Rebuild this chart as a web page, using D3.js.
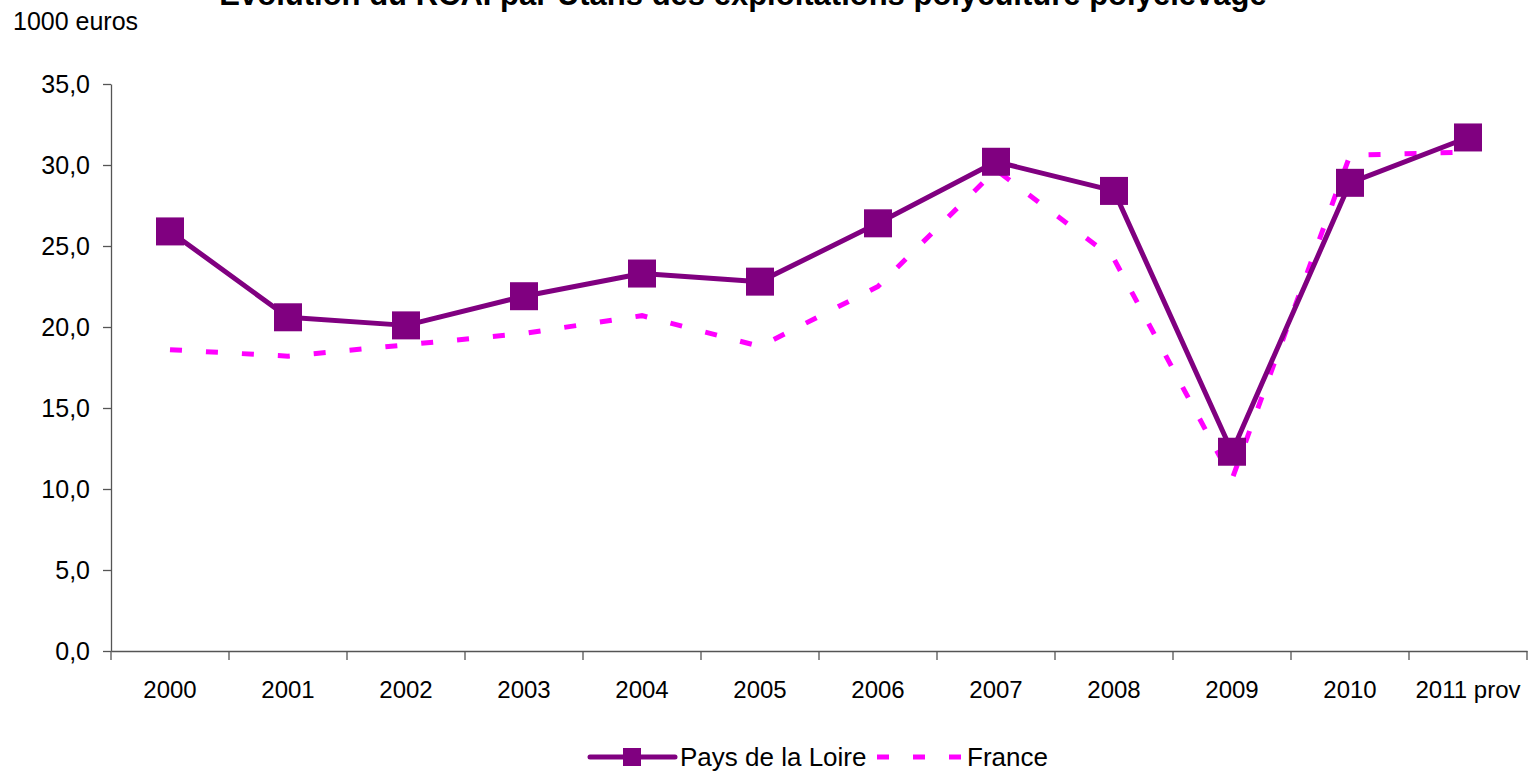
<!DOCTYPE html>
<html>
<head>
<meta charset="utf-8">
<script src="https://cdn.jsdelivr.net/npm/d3@7"></script>
<style>
  body { margin: 0; background: #fff; }
  text { font-family: "Liberation Sans", Arial, sans-serif; fill: #000; }
</style>
</head>
<body>
<div id="chart"></div>
<script>
const width = 1538;
const height = 773;

const years = ["2000", "2001", "2002", "2003", "2004", "2005", "2006", "2007", "2008", "2009", "2010", "2011 prov"];
const paysDeLaLoire = [25.9, 20.6, 20.1, 21.9, 23.3, 22.8, 26.4, 30.2, 28.4, 12.3, 28.9, 31.7];
const france = [18.6, 18.2, 18.9, 19.6, 20.7, 18.8, 22.5, 29.7, 24.2, 10.6, 30.6, 30.8];
const yTicks = [0, 5, 10, 15, 20, 25, 30, 35];

const margin = { left: 111, right: 11, top: 84, bottom: 122 };

const svg = d3.select("#chart")
    .append("svg")
    .attr("width", width)
    .attr("height", height);

const x = d3.scaleBand()
    .domain(years)
    .range([margin.left, width - margin.right]);

const y = d3.scaleLinear()
    .domain([0, 35])
    .range([height - margin.bottom, margin.top]);

const fmt = d => d3.format(".1f")(d).replace(".", ",");

// axes
const yAxis = svg.append("g")
    .attr("transform", `translate(${margin.left},0)`)
    .call(d3.axisLeft(y).tickValues(yTicks).tickFormat(fmt).tickSize(8).tickSizeOuter(0));

const xAxis = svg.append("g")
    .attr("transform", `translate(0,${y(0)})`)
    .call(d3.axisBottom(x).tickSize(0).tickSizeOuter(0));

[yAxis, xAxis].forEach(g => {
    g.select(".domain").attr("stroke", "#555").attr("stroke-width", 1.3);
    g.selectAll(".tick line").attr("stroke", "#555").attr("stroke-width", 1.3);
    g.selectAll("text").attr("font-family", "Liberation Sans, Arial, sans-serif");
});
yAxis.selectAll("text").style("font-size", "25px").attr("x", -21).attr("dy", "0.35em");
xAxis.selectAll("text").style("font-size", "24px").attr("y", 47).attr("dy", 0);

// x tick marks between categories
const boundaries = years.map(d => x(d)).concat([x(years[years.length - 1]) + x.bandwidth()]);
xAxis.selectAll(".bound")
    .data(boundaries)
    .enter()
    .append("line")
    .attr("x1", d => d)
    .attr("x2", d => d)
    .attr("y1", 0)
    .attr("y2", 9)
    .attr("stroke", "#555")
    .attr("stroke-width", 1.3);

const cx = d => x(d) + x.bandwidth() / 2;

const line = d3.line()
    .x((d, i) => cx(years[i]))
    .y(d => y(d));

// France dashed
svg.append("path")
    .datum(france)
    .attr("d", line)
    .attr("fill", "none")
    .attr("stroke", "#FF00FF")
    .attr("stroke-width", 5)
    .attr("stroke-dasharray", "12,24");

// Pays de la Loire
svg.append("path")
    .datum(paysDeLaLoire)
    .attr("d", line)
    .attr("fill", "none")
    .attr("stroke", "#800080")
    .attr("stroke-width", 5)
    .attr("stroke-linejoin", "round");

const mk = 28;
svg.selectAll(".marker")
    .data(paysDeLaLoire)
    .enter()
    .append("rect")
    .attr("class", "marker")
    .attr("x", (d, i) => cx(years[i]) - mk / 2)
    .attr("y", d => y(d) - mk / 2)
    .attr("width", mk)
    .attr("height", mk)
    .attr("fill", "#800080");

// title and unit
svg.append("text")
    .attr("x", 743)
    .attr("y", 5)
    .attr("text-anchor", "middle")
    .style("font-size", "31px")
    .style("font-weight", "bold")
    .text("Evolution du RCAI par Utans des exploitations polyculture polyélevage");

svg.append("text")
    .attr("x", 13)
    .attr("y", 30)
    .style("font-size", "25px")
    .text("1000 euros");

// legend
const legY = 757;
const leg = svg.append("g");
leg.append("line")
    .attr("x1", 590).attr("x2", 675)
    .attr("y1", legY).attr("y2", legY)
    .attr("stroke", "#800080").attr("stroke-width", 5).attr("stroke-linecap", "round");
leg.append("rect")
    .attr("x", 623).attr("y", legY - 9).attr("width", 18).attr("height", 18)
    .attr("fill", "#800080");
leg.append("text")
    .attr("x", 680).attr("y", legY + 9)
    .style("font-size", "26px")
    .text("Pays de la Loire");
leg.append("line")
    .attr("x1", 877).attr("x2", 962)
    .attr("y1", legY).attr("y2", legY)
    .attr("stroke", "#FF00FF").attr("stroke-width", 5)
    .attr("stroke-dasharray", "12,24");
leg.append("text")
    .attr("x", 967).attr("y", legY + 9)
    .style("font-size", "26px")
    .text("France");
</script>
</body>
</html>
